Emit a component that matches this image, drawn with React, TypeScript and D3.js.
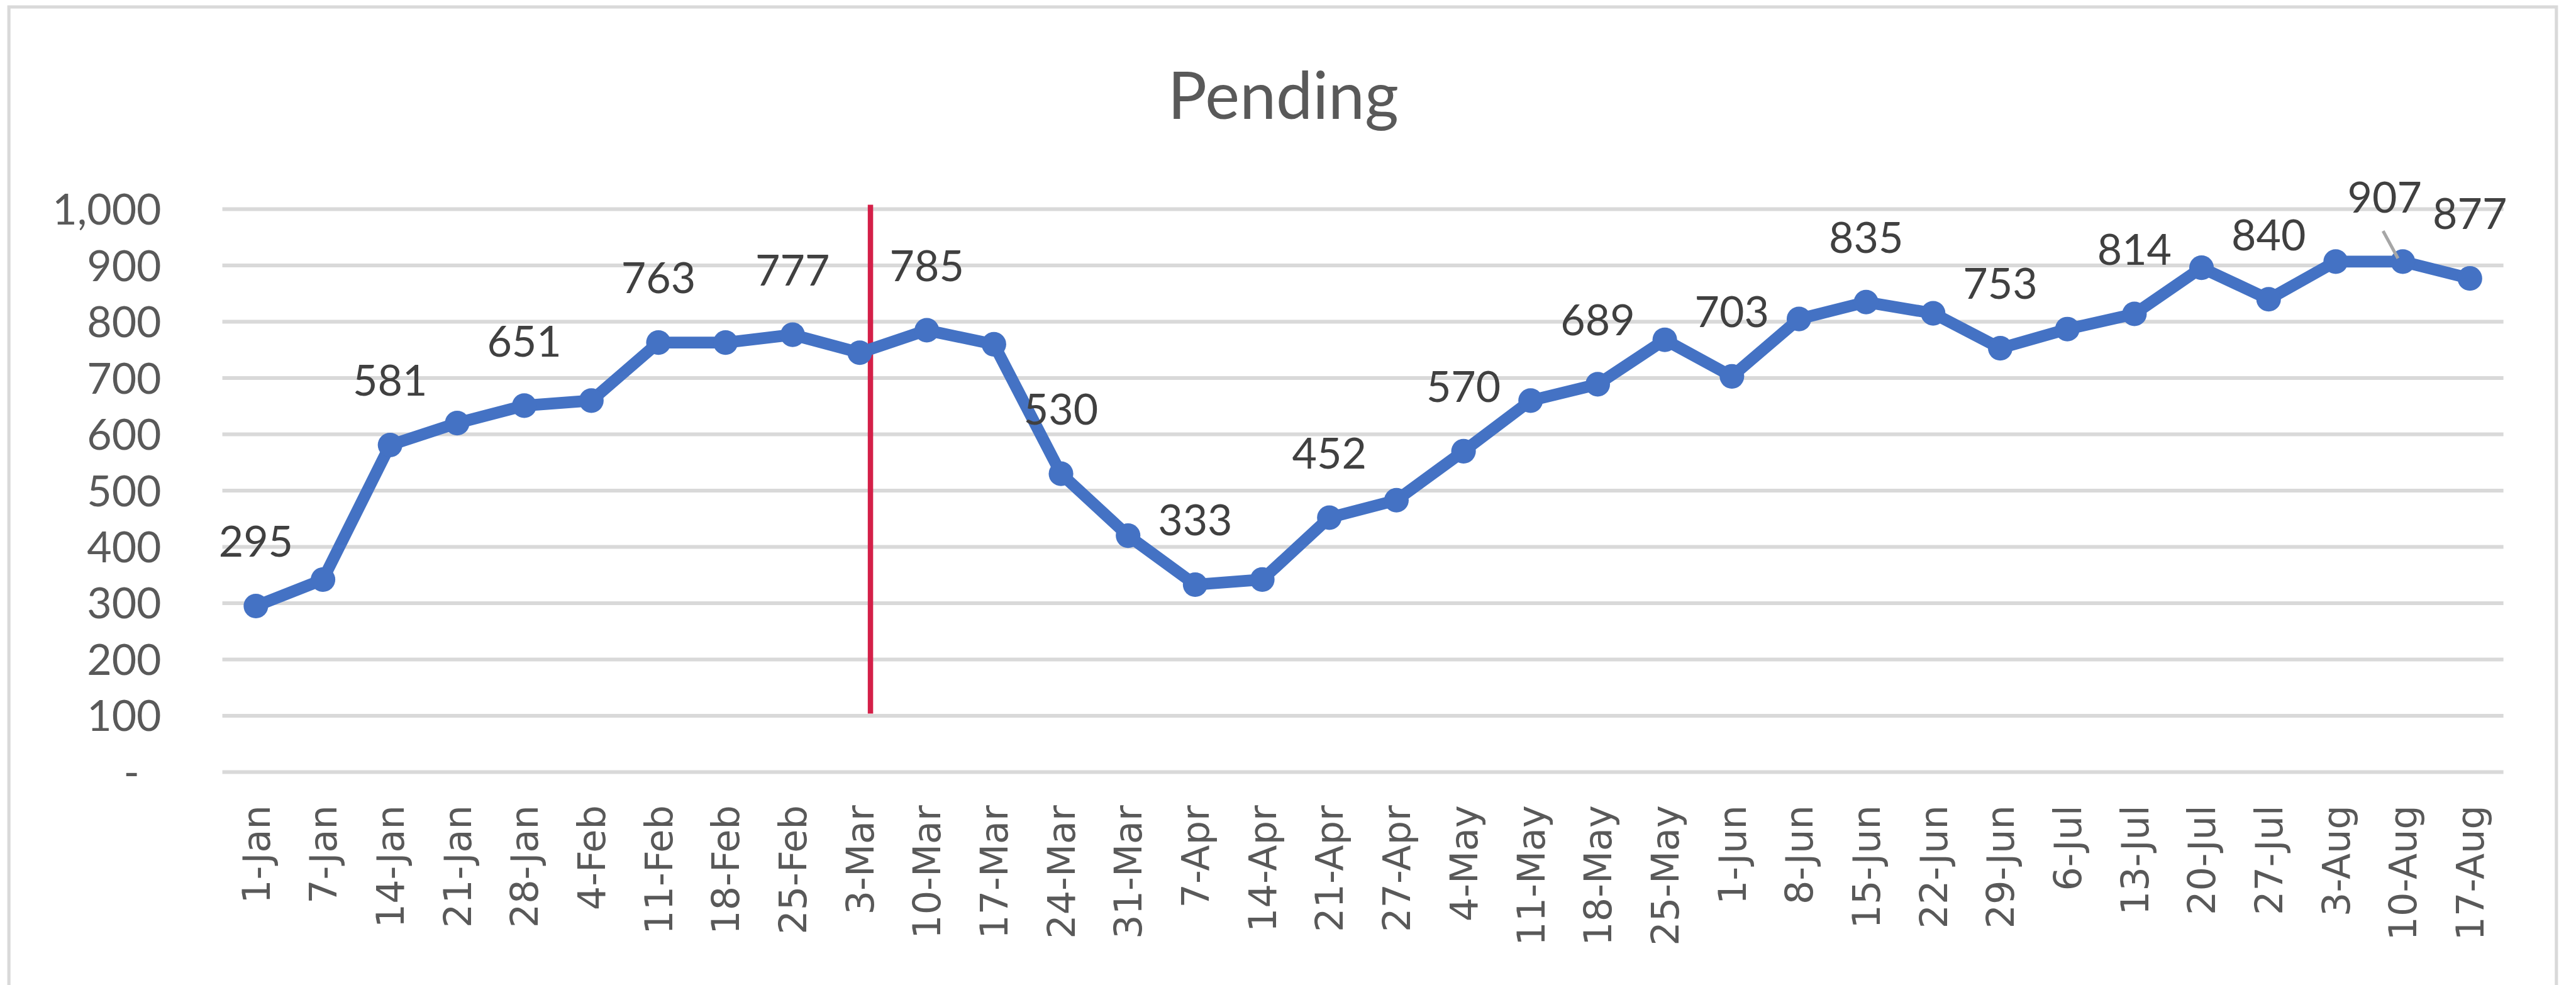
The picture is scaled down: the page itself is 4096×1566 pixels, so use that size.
import * as d3 from 'd3'

const CATEGORIES = [
  '1-Jan', '7-Jan', '14-Jan', '21-Jan', '28-Jan', '4-Feb', '11-Feb', '18-Feb', '25-Feb',
  '3-Mar', '10-Mar', '17-Mar', '24-Mar', '31-Mar', '7-Apr', '14-Apr', '21-Apr', '27-Apr',
  '4-May', '11-May', '18-May', '25-May', '1-Jun', '8-Jun', '15-Jun', '22-Jun', '29-Jun',
  '6-Jul', '13-Jul', '20-Jul', '27-Jul', '3-Aug', '10-Aug', '17-Aug',
]

const PENDING = [
  295, 342, 581, 620, 651, 660, 763, 763, 777,
  745, 785, 760, 530, 420, 333, 342, 452, 483,
  570, 660, 689, 768, 703, 805, 835, 815, 753,
  787, 814, 896, 840, 907, 907, 877,
]

// indices of the points that carry a data label
const LABELLED = [0, 2, 4, 6, 8, 10, 12, 14, 16, 18, 20, 22, 24, 26, 28, 30, 32, 33]

const Y_TICKS = [0, 100, 200, 300, 400, 500, 600, 700, 800, 900, 1000]

// red cut-off marker drawn just after 3-Mar
const CUTOFF_DATE = '3-Mar'
const CUTOFF_FROM = 104
const CUTOFF_TO = 1008

// Everything is laid out in the reference's own pixel space, the viewBox scales it
const W = 4814
const H = 1841
const PL = 415
const PR = 4679
const PT = 391
const PB = 1443

const BLUE = '#4472C4'
const GRID = '#d9d9d9'
const AXIS_TEXT = '#595959'
const LABEL_TEXT = '#404040'
const SANS = 'Lato, "Open Sans", sans-serif'

const fmt = d3.format(',')

export default function App() {
  const x = d3.scaleBand<string>().domain(CATEGORIES).range([PL, PR]).padding(0)
  const y = d3.scaleLinear().domain([0, 1000]).range([PB, PT])
  const bw = x.bandwidth()
  const cx = (c: string) => (x(c) ?? 0) + bw / 2

  const pts = CATEGORIES.map((c, i) => ({ c, v: PENDING[i], px: cx(c), py: y(PENDING[i]) }))

  const line = d3.line<{ px: number; py: number }>()
    .x((d) => d.px)
    .y((d) => d.py)

  // 907 label is nudged left by Excel to clear the 877 one, with a leader line
  const nudge = (i: number) => (i === 32 ? -0.27 * bw : 0)

  const cutX = cx(CUTOFF_DATE) + bw * 0.16

  return (
    <svg
      width={4096}
      height={1566}
      viewBox={`0 0 ${W} ${H}`}
      style={{ position: 'absolute', left: 0, top: 0, display: 'block', background: '#fff' }}
    >
      {/* chart border */}
      <rect x={16} y={13} width={4762} height={H + 20} fill="#fff" stroke={GRID} strokeWidth={6} />

      {/* title */}
      <text x={2398} y={222} textAnchor="middle" fill={AXIS_TEXT} fontSize={122} fontFamily={SANS}>
        Pending
      </text>

      {/* gridlines + y labels */}
      {Y_TICKS.map((t) => (
        <g key={t}>
          <line x1={PL} x2={PR} y1={y(t)} y2={y(t)} stroke={GRID} strokeWidth={7} />
          <text
            x={t === 0 ? 260 : 301}
            y={y(t)}
            dy="0.36em"
            textAnchor="end"
            fill={AXIS_TEXT}
            fontSize={80}
            fontFamily={SANS}
          >
            {t === 0 ? '-' : fmt(t)}
          </text>
        </g>
      ))}

      {/* x labels */}
      {CATEGORIES.map((c) => (
        <text
          key={c}
          transform={`translate(${cx(c)},1505) rotate(-90)`}
          dy="0.36em"
          textAnchor="end"
          fill={AXIS_TEXT}
          fontSize={71}
          fontFamily='"DejaVu Sans", sans-serif'
        >
          {c}
        </text>
      ))}

      {/* cut-off line */}
      <line
        x1={cutX}
        x2={cutX}
        y1={y(CUTOFF_TO)}
        y2={y(CUTOFF_FROM)}
        stroke="#D41F48"
        strokeWidth={10}
      />

      {/* series */}
      <path d={line(pts) ?? ''} fill="none" stroke={BLUE} strokeWidth={22} strokeLinejoin="round" />
      {pts.map((p) => (
        <circle key={p.c} cx={p.px} cy={p.py} r={23} fill={BLUE} />
      ))}

      {/* data labels */}
      {LABELLED.map((i) => {
        const p = pts[i]
        const lx = p.px + nudge(i)
        const ly = p.py - 92
        return (
          <g key={i}>
            {nudge(i) !== 0 && (
              <line
                x1={lx - 3}
                y1={ly + 35}
                x2={p.px - 9}
                y2={p.py - 6}
                stroke="#a6a6a6"
                strokeWidth={6}
              />
            )}
            <text x={lx} y={ly} textAnchor="middle" fill={LABEL_TEXT} fontSize={80} fontFamily={SANS}>
              {p.v}
            </text>
          </g>
        )
      })}
    </svg>
  )
}
